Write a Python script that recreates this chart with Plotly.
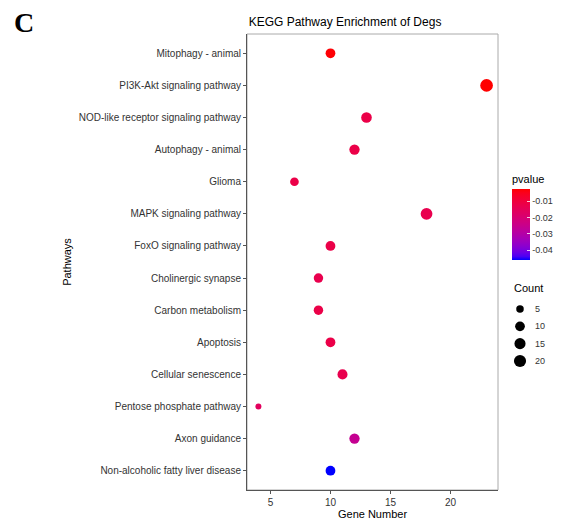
import numpy as np
import plotly.graph_objects as go

pathways = [
    "Mitophagy - animal",
    "PI3K-Akt signaling pathway",
    "NOD-like receptor signaling pathway",
    "Autophagy - animal",
    "Glioma",
    "MAPK signaling pathway",
    "FoxO signaling pathway",
    "Cholinergic synapse",
    "Carbon metabolism",
    "Apoptosis",
    "Cellular senescence",
    "Pentose phosphate pathway",
    "Axon guidance",
    "Non-alcoholic fatty liver disease",
]
gene_number = [10, 23, 13, 12, 7, 18, 10, 9, 9, 10, 11, 4, 12, 10]
pvalue = [-0.003, -0.0026, -0.012, -0.012, -0.012, -0.013, -0.012, -0.013,
          -0.012, -0.012, -0.013, -0.016, -0.026, -0.046]
count_breaks = [5, 10, 15, 20]
count_labels = ["5", "10", "15", "20"]
pvalue_ticks = [-0.01, -0.02, -0.03, -0.04]
pvalue_ticktext = ["-0.01", "-0.02", "-0.03", "-0.04"]


# ---- Lab-space gradient (blue -> red) like ggplot's scale_colour_gradient
def srgb_to_lab(rgb):
    c = np.array(rgb, dtype=float) / 255.0
    lin = np.where(c <= 0.04045, c / 12.92, ((c + 0.055) / 1.055) ** 2.4)
    M = np.array([[0.4124, 0.3576, 0.1805], [0.2126, 0.7152, 0.0722], [0.0193, 0.1192, 0.9505]])
    xyz = M @ lin
    wp = np.array([0.95047, 1.0, 1.08883])
    t = xyz / wp
    f = np.where(t > 0.008856, np.cbrt(t), 7.787 * t + 16 / 116)
    return np.array([116 * f[1] - 16, 500 * (f[0] - f[1]), 200 * (f[1] - f[2])])


def lab_to_srgb(lab):
    L, a, b = lab
    fy_ = (L + 16) / 116
    fx_ = fy_ + a / 500
    fz_ = fy_ - b / 200
    f = np.array([fx_, fy_, fz_])
    t = np.where(f ** 3 > 0.008856, f ** 3, (f - 16 / 116) / 7.787)
    xyz = t * np.array([0.95047, 1.0, 1.08883])
    Minv = np.array([[3.2406, -1.5372, -0.4986], [-0.9689, 1.8758, 0.0415], [0.0557, -0.2040, 1.0570]])
    lin = np.clip(Minv @ xyz, 0, 1)
    c = np.where(lin <= 0.0031308, 12.92 * lin, 1.055 * lin ** (1 / 2.4) - 0.055)
    c = np.clip(np.round(c * 255), 0, 255).astype(int)
    return "rgb(%d,%d,%d)" % tuple(c)


lab_lo = srgb_to_lab((0, 0, 255))
lab_hi = srgb_to_lab((255, 0, 0))
colorscale = [[s, lab_to_srgb(lab_lo + (lab_hi - lab_lo) * s)] for s in np.linspace(0, 1, 21)]

# ---- size scale (area-like, as ggplot scale_size)
cmin_c, cmax_c = min(gene_number), max(gene_number)


def size_of(c):
    return 6 + 6.7 * np.sqrt(max(c - cmin_c, 0) / (cmax_c - cmin_c))


# page body has an 8px margin: figure is drawn at (8, 8) in the window
OFF = 8
W, H = 563 - OFF, 523 - OFF


def fx(px):
    return (px - OFF) / W


def fy(py):
    return 1 - (py - OFF) / H


# panel in window pixels
PX0, PX1, PY0, PY1 = 247, 498, 34, 490

fig = go.Figure()
fig.add_trace(go.Scatter(
    x=gene_number, y=pathways, mode="markers", showlegend=False,
    xaxis="x", yaxis="y",
    marker=dict(
        size=[size_of(c) for c in gene_number],
        color=pvalue, colorscale=colorscale,
        cmin=min(pvalue), cmax=max(pvalue),
        line=dict(width=0), opacity=1,
        colorbar=dict(
            title=dict(text="pvalue", side="top", font=dict(size=11, color="#000")),
            x=fx(512), xanchor="left", xpad=0,
            y=fy(216), yanchor="middle", ypad=0,
            lenmode="pixels", len=88, thickness=18,
            outlinewidth=0,
            tickvals=pvalue_ticks, ticktext=pvalue_ticktext,
            ticks="inside", ticklen=3, tickcolor="rgba(255,255,255,0.8)",
            tickfont=dict(size=9, color="#333"),
        ),
    ),
))

# size legend ("Count") drawn on a small auxiliary axis
fig.add_trace(go.Scatter(
    x=[12] * len(count_breaks), y=count_breaks, mode="markers", showlegend=False,
    xaxis="x2", yaxis="y2", hoverinfo="skip",
    marker=dict(size=[size_of(c) for c in count_breaks], color="black",
                opacity=1, line=dict(width=0)),
))

fig.update_layout(
    width=W, height=H,
    margin=dict(l=0, r=0, t=0, b=0, autoexpand=False),
    paper_bgcolor="white", plot_bgcolor="white",
    font=dict(family="Liberation Sans, Arial, sans-serif", color="#000"),
    title=dict(text="KEGG Pathway Enrichment of Degs", x=fx(345), xanchor="center",
               y=fy(22), yanchor="middle", font=dict(size=12, color="#000")),
    showlegend=False,
    xaxis=dict(
        domain=[fx(PX0), fx(PX1)], anchor="y",
        range=[3.05, 23.95], tickvals=[5, 10, 15, 20],
        showgrid=False, zeroline=False, automargin=False,
        showline=True, linecolor="#555", linewidth=1,
        ticks="outside", ticklen=3, tickcolor="#555",
        tickfont=dict(size=10, color="#333"),
        title=dict(text="Gene Number", font=dict(size=11, color="#000"), standoff=2),
    ),
    yaxis=dict(
        domain=[fy(PY1), fy(PY0)], anchor="x",
        type="category", categoryorder="array", categoryarray=pathways[::-1],
        range=[-0.6, len(pathways) - 0.4],
        showgrid=False, zeroline=False, automargin=False,
        showline=True, linecolor="#555", linewidth=1,
        ticks="outside", ticklen=3, tickcolor="#555",
        tickfont=dict(size=10, color="#333"),
        title=dict(text="Pathways", font=dict(size=11, color="#000"), standoff=4),
    ),
    xaxis2=dict(
        domain=[fx(508), fx(532)], anchor="y2", range=[0, 24],
        showgrid=False, zeroline=False, showline=False, showticklabels=False,
        ticks="", fixedrange=True,
    ),
    yaxis2=dict(
        domain=[fy(361 + 8.65), fy(309 - 8.65)], anchor="x2", side="right",
        range=[22.5, 2.5], tickvals=count_breaks, ticktext=count_labels,
        showgrid=False, zeroline=False, showline=False, ticks="",
        tickfont=dict(size=9, color="#333"), ticklabelstandoff=2, fixedrange=True,
    ),
    shapes=[dict(type="rect", xref="paper", yref="paper",
                 x0=fx(PX0), x1=fx(PX1), y0=fy(PY1), y1=fy(PY0),
                 line=dict(color="#aaa", width=1), layer="below")],
    annotations=[
        dict(text="<b>C</b>", x=fx(24), y=fy(23), xref="paper", yref="paper",
             xanchor="center", yanchor="middle", showarrow=False,
             font=dict(family="Liberation Serif, Times New Roman, serif", size=28, color="#000")),
        dict(text="Count", x=fx(512), y=fy(288), xref="paper", yref="paper",
             xanchor="left", yanchor="middle", showarrow=False,
             font=dict(size=11, color="#000")),
    ],
)

fig.write_html("out.html")
